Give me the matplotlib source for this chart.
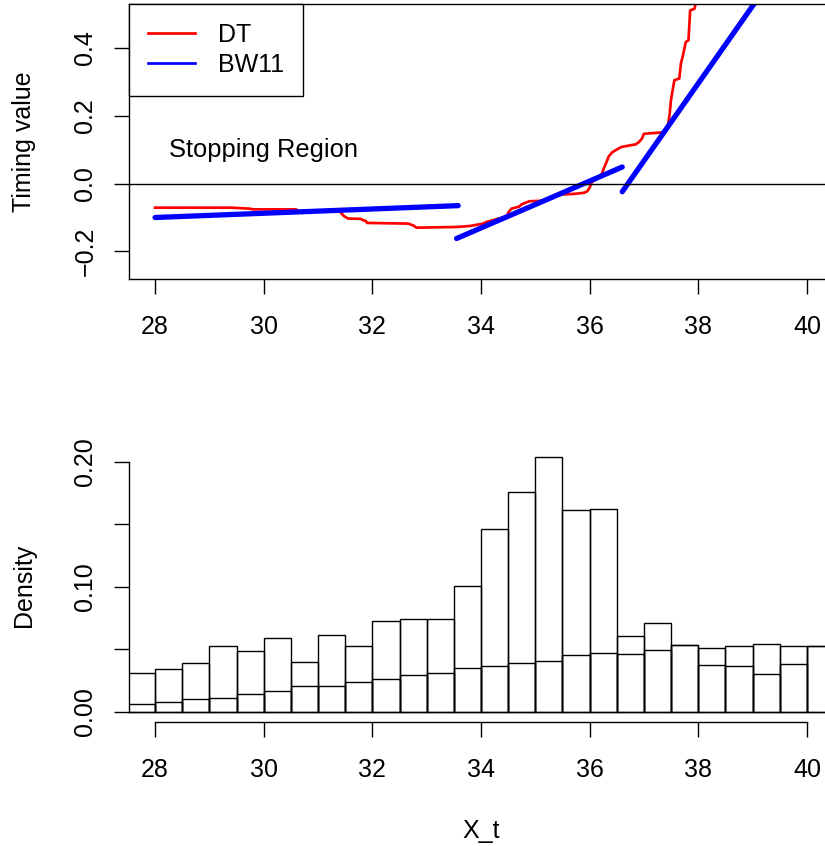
import numpy as np
import matplotlib
matplotlib.use("Agg")
import matplotlib.pyplot as plt
from matplotlib.lines import Line2D

plt.rcParams['font.family'] = ['Liberation Sans', 'DejaVu Sans']
plt.rcParams['font.size'] = 18

# --- DT timing value (step-like curve) ---
dt_x = [28.0, 29.4, 29.75, 29.8, 30.6, 30.63, 31.4, 31.47, 31.55, 31.78, 31.83,
        31.88, 31.9, 32.66, 32.76, 32.81, 33.55, 33.8, 34.04, 34.1, 34.22,
        34.3, 34.48, 34.5, 34.56, 34.7, 34.75, 34.89, 35.08, 35.3, 35.38,
        35.5, 35.74, 35.9, 35.96, 36.0, 36.04, 36.12, 36.23, 36.26, 36.3,
        36.35, 36.42, 36.58, 36.85, 36.91, 36.96, 37.0, 37.4, 37.44, 37.47,
        37.5, 37.56, 37.65, 37.68, 37.72, 37.77, 37.82, 37.85, 37.93, 38.05]
dt_y = [-0.071, -0.071, -0.074, -0.076, -0.076, -0.082, -0.082, -0.095, -0.103,
        -0.104, -0.108, -0.110, -0.116, -0.118, -0.124, -0.130, -0.128, -0.125,
        -0.118, -0.113, -0.108, -0.104, -0.098, -0.086, -0.074, -0.068, -0.061,
        -0.052, -0.051, -0.044, -0.037, -0.032, -0.030, -0.027, -0.022, -0.012,
        0.005, 0.012, 0.030, 0.045, 0.059, 0.080, 0.093, 0.108, 0.116, 0.123,
        0.132, 0.147, 0.152, 0.170, 0.201, 0.250, 0.305, 0.310, 0.354, 0.380,
        0.418, 0.423, 0.511, 0.516, 0.600]

# --- BW11 piecewise linear pieces ---
bw_seg1_x = [28.0, 33.58]
bw_seg1_y = [-0.100, -0.065]
bw_seg2_x = [33.55, 36.6]
bw_seg2_y = [-0.162, 0.049]
bw_seg3_x = [36.6, 39.2]
bw_seg3_y = [-0.024, 0.570]

# --- histogram densities (bins of width 0.5 from 27.5) ---
bin_edges = np.arange(27.5, 40.51, 0.5)
dens_all = [0.0307, 0.0339, 0.0390, 0.0523, 0.0486, 0.0592, 0.0400, 0.0614,
            0.0523, 0.0728, 0.0742, 0.0742, 0.1006, 0.1459, 0.1755, 0.2035,
            0.1614, 0.1619, 0.0606, 0.0712, 0.0536, 0.0512, 0.0528, 0.0544,
            0.0528, 0.0528]
dens_stop = [0.0064, 0.0080, 0.0104, 0.0110, 0.0144, 0.0168, 0.0208, 0.0208,
             0.0235, 0.0259, 0.0291, 0.0312, 0.0350, 0.0368, 0.0387, 0.0408,
             0.0456, 0.0472, 0.0464, 0.0491, 0.0536, 0.0374, 0.0363, 0.0304,
             0.0384, 0.0528]

xticks = [28, 30, 32, 34, 36, 38, 40]
yticks_top = [-0.2, 0.0, 0.2, 0.4]
ytick_top_labels = ['\u22120.2', '0.0', '0.2', '0.4']
yticks_bot = [0.0, 0.05, 0.10, 0.15, 0.20]
ytick_bot_labels = ['0.00', '', '0.10', '', '0.20']

W, H = 825, 846
fig = plt.figure(figsize=(W / 100, H / 100), dpi=100)
ax1 = fig.add_axes([129 / W, 1 - 278.5 / H, 704 / W, 274.5 / H])
ax2 = fig.add_axes([129 / W, 1 - 722.3 / H, 704 / W, 274.5 / H])

# --- top panel ---
ax1.plot(dt_x, dt_y, color='#ff0000', lw=1.95)
for sx, sy in [(bw_seg1_x, bw_seg1_y), (bw_seg2_x, bw_seg2_y), (bw_seg3_x, bw_seg3_y)]:
    ax1.plot(sx, sy, color='#0000ff', lw=3.8, solid_capstyle='round')
ax1.axhline(0, color='black', lw=1.0)
ax1.text(30, 0.1, 'Stopping Region', ha='center', va='center', fontsize=18.4)
ax1.set_xlim(27.52, 40.48)
ax1.set_ylim(-0.28, 0.53)
ax1.set_xticks(xticks, labels=[str(t) for t in xticks])
ax1.set_yticks(yticks_top, labels=ytick_top_labels, rotation=90, va='center')
for s in ax1.spines.values():
    s.set_linewidth(1.0)

handles = [Line2D([], [], color='#ff0000', lw=1.95),
           Line2D([], [], color='#0000ff', lw=1.95)]
leg = ax1.legend(handles, ['DT', 'BW11'], loc='upper left', bbox_to_anchor=(0, 1),
                 borderaxespad=0, borderpad=0.74, labelspacing=0.27,
                 handlelength=1.9, handletextpad=0.94, fancybox=False,
                 framealpha=1, edgecolor='black', fontsize=18)
leg.get_frame().set_linewidth(1.0)

# --- bottom panel ---
ax2.bar(bin_edges[:-1], dens_all, width=0.5, align='edge', fill=False,
        edgecolor='black', lw=1.0)
ax2.bar(bin_edges[:-1], dens_stop, width=0.5, align='edge', fill=False,
        edgecolor='black', lw=1.0)
ax2.set_xlim(27.52, 40.48)
ax2.set_ylim(-0.0085, 0.211)
ax2.spines['top'].set_visible(False)
ax2.spines['right'].set_visible(False)
ax2.spines['left'].set_bounds(0, 0.2)
ax2.spines['bottom'].set_bounds(28, 40)
for s in ax2.spines.values():
    s.set_linewidth(1.0)
ax2.set_xticks(xticks, labels=[str(t) for t in xticks])
ax2.set_yticks(yticks_bot, labels=ytick_bot_labels, rotation=90, va='center')

for ax in (ax1, ax2):
    ax.tick_params(axis='x', length=11, width=1.0, pad=15, labelsize=18)
    ax.tick_params(axis='y', length=11, width=1.0, pad=11.8, labelsize=18)

fig.text(23.5 / W, 1 - 141.2 / H, 'Timing value', rotation=90, ha='center', va='center', fontsize=18)
fig.text(23.5 / W, 1 - 585 / H, 'Density', rotation=90, ha='center', va='center', fontsize=18)
fig.text(481 / W, 1 - 838.3 / H, 'X_t', ha='center', va='baseline', fontsize=18)

fig.savefig('out.png', dpi=100)
